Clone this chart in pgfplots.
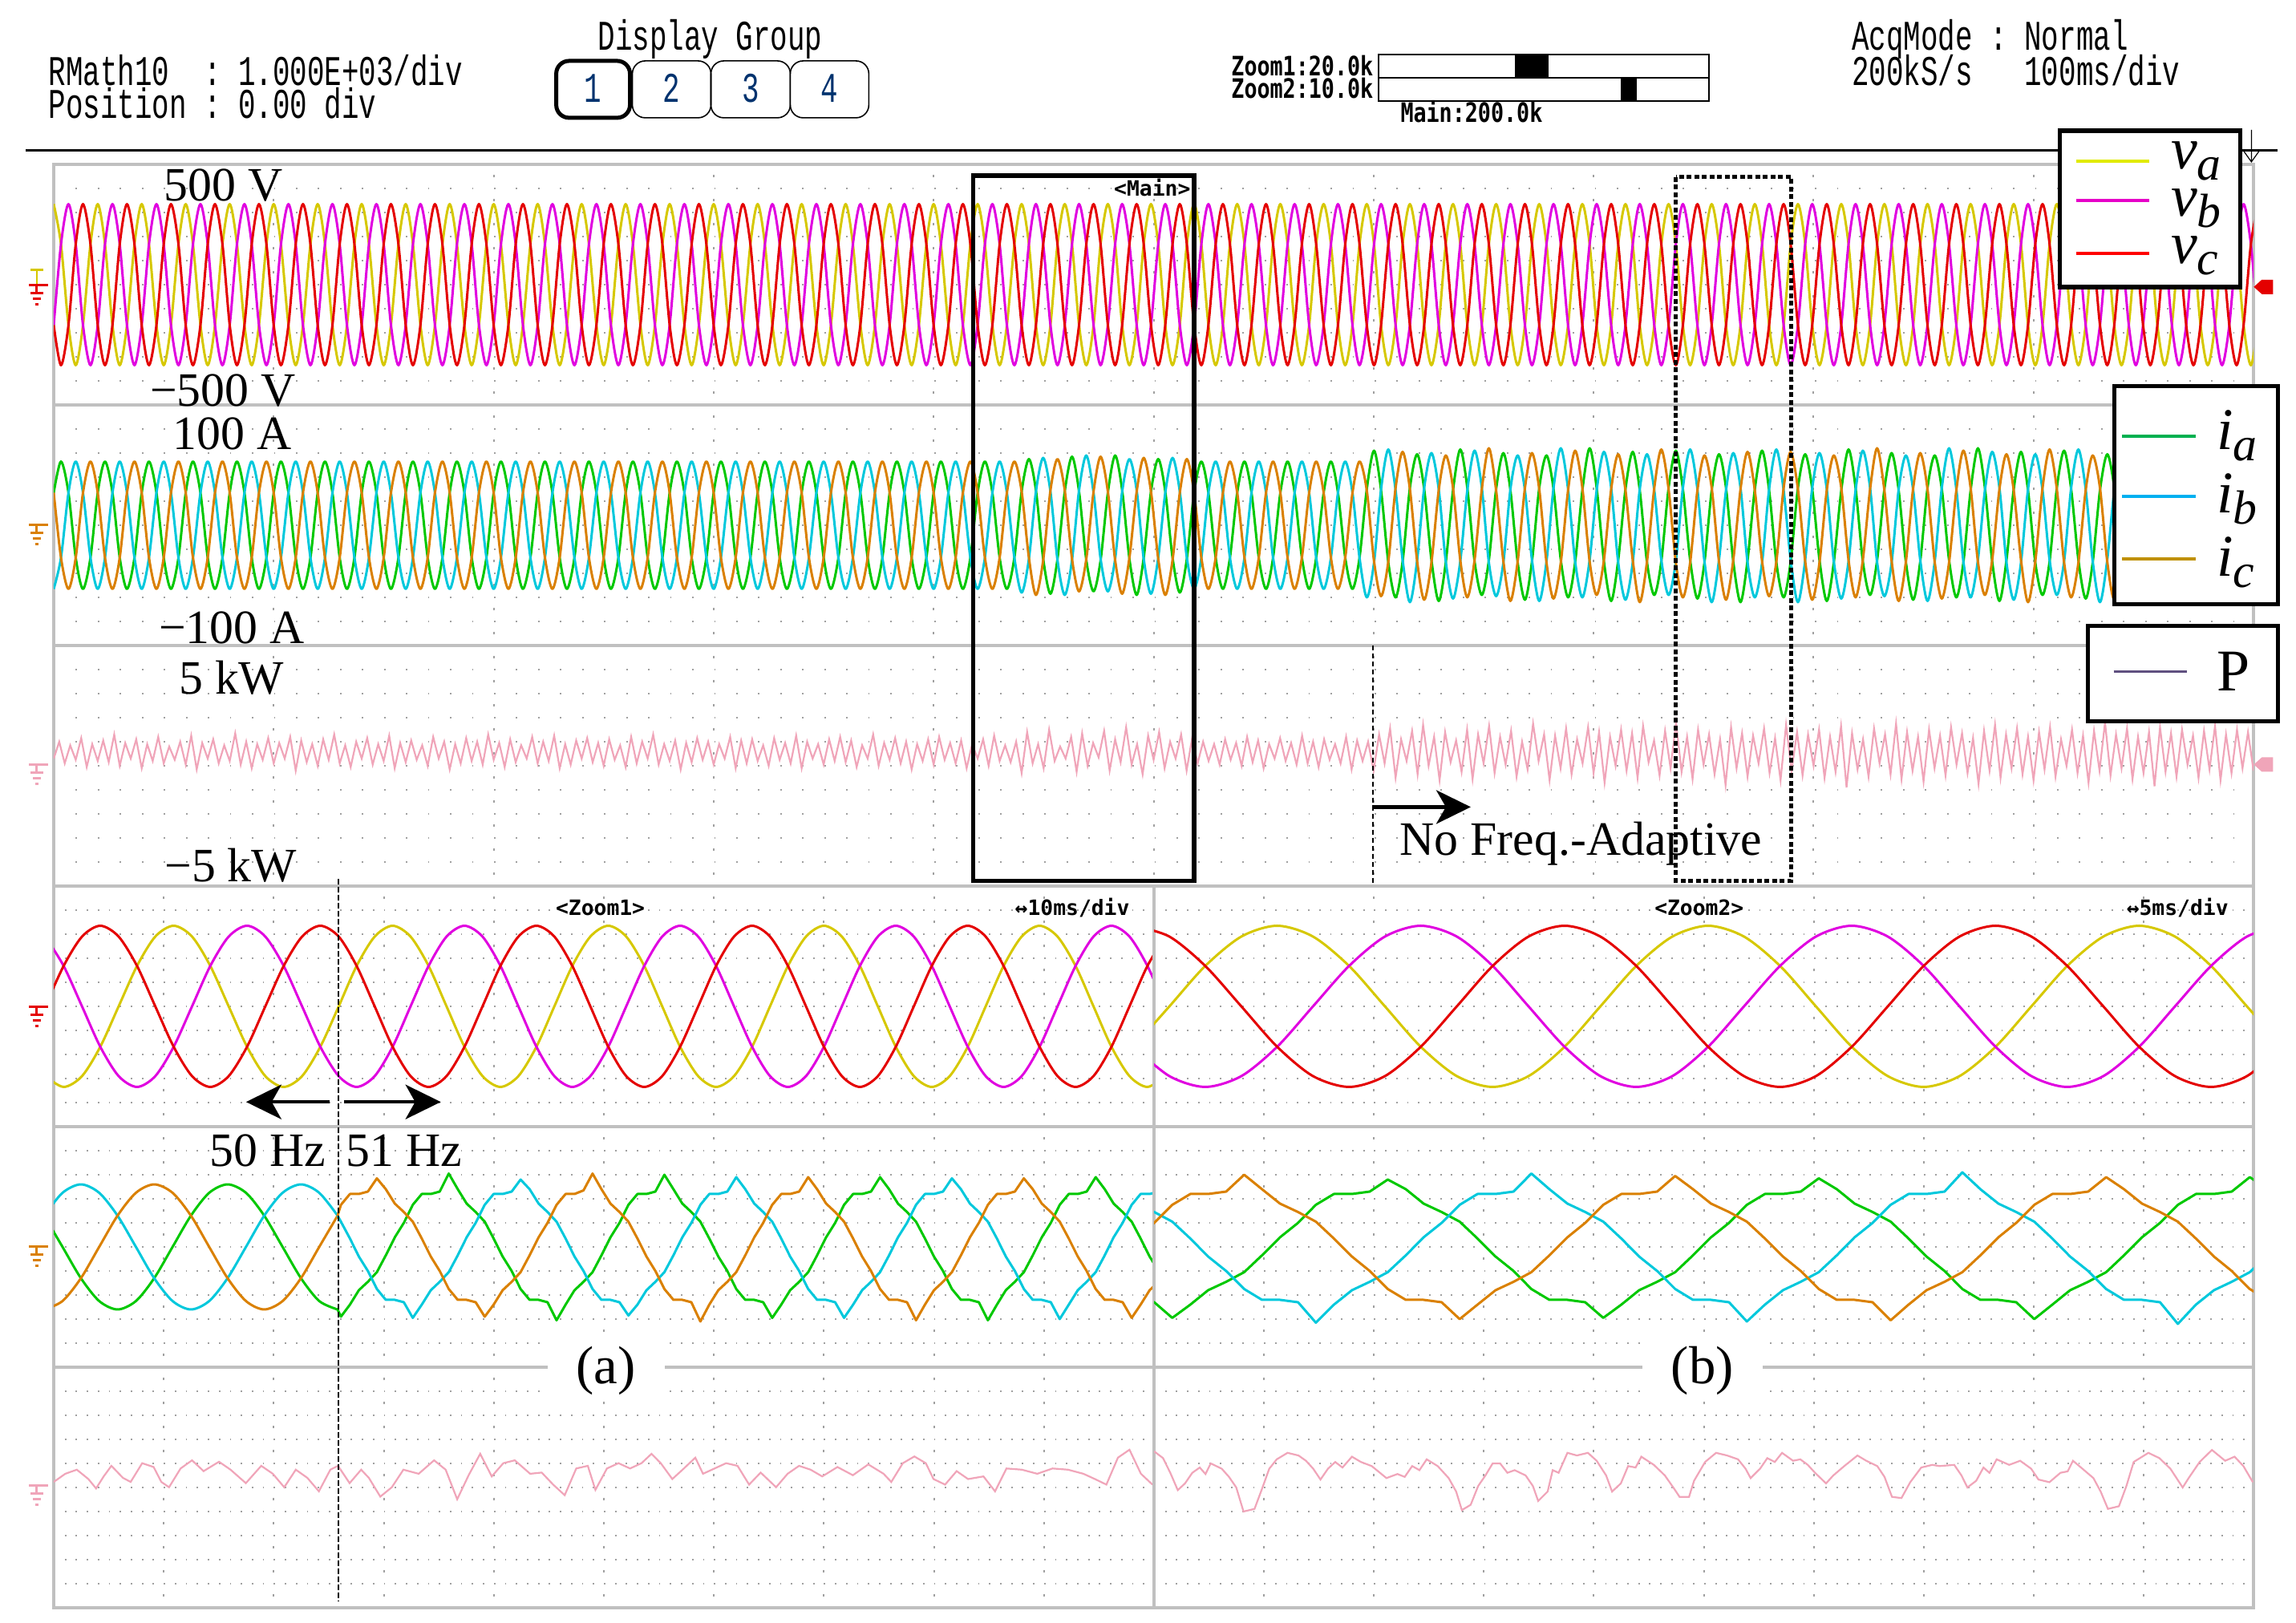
\documentclass[border=0pt]{standalone}
\usepackage{pgfplots}
\pgfplotsset{compat=1.18}
\usepackage{pgfplotstable}
\usepackage{graphicx}
\usepackage{fontspec}
\setmainfont{Liberation Serif}
\newfontfamily\scopefont{Liberation Mono}
\newfontfamily\tagfont{DejaVu Sans Mono}
\usetikzlibrary{arrows.meta}

\definecolor{va}{RGB}{214,200,0}
\definecolor{vb}{RGB}{224,0,224}
\definecolor{vc}{RGB}{228,0,0}
\definecolor{ia}{RGB}{0,200,0}
\definecolor{ib}{RGB}{0,200,220}
\definecolor{ic}{RGB}{218,128,0}
\definecolor{pw}{RGB}{240,165,185}
\definecolor{lva}{RGB}{225,235,0}
\definecolor{lvb}{RGB}{230,0,200}
\definecolor{lvc}{RGB}{255,0,0}
\definecolor{lia}{RGB}{0,176,80}
\definecolor{lib}{RGB}{0,176,240}
\definecolor{lic}{RGB}{191,144,0}
\definecolor{lp}{RGB}{96,80,128}
\definecolor{frame}{RGB}{192,192,192}
\definecolor{dots}{RGB}{160,160,160}
\definecolor{btn}{RGB}{0,50,110}

\newcommand{\hdr}[1]{\scalebox{0.68}[1]{\scopefont\fontsize{15}{15}\selectfont #1}}
\newcommand{\tg}[1]{{\tagfont\bfseries\fontsize{7.5}{7.5}\selectfont #1}}
\newcommand{\zl}[1]{\scalebox{0.8}[1]{\tagfont\bfseries\fontsize{9.5}{9.5}\selectfont #1}}
\newcommand{\lbl}{\fontsize{17}{17}\selectfont}
\newcommand{\lgd}[2]{{\fontsize{21}{21}\selectfont\itshape #1}\raisebox{-0.14cm}{\fontsize{17}{17}\selectfont\itshape #2}}

\pgfplotsset{
  osc/.style={scale only axis, height=3cm, axis lines=box, enlargelimits=false,
    axis line style={frame, line width=0.035cm}, major tick length=0pt,
    xticklabel=\empty, yticklabel=\empty, grid=major, clip=true,
    x grid style={dots, line width=0.02cm, dash pattern=on 0.03cm off 0.27cm, dash phase=0.165cm}},
  mainpanel/.style={osc, width=27.43cm, xmin=0, xmax=1000, xtick={100,200,...,900},
    y grid style={dots, line width=0.018cm, dash pattern=on 0.018cm off 0.2565cm}},
  zoomone/.style={osc, width=13.72cm, xmin=0, xmax=100, xtick={10,20,...,90},
    y grid style={dots, line width=0.018cm, dash pattern=on 0.018cm off 0.1192cm}},
  zoomtwo/.style={osc, width=13.71cm, xmin=0, xmax=50, xtick={5,10,...,45},
    y grid style={dots, line width=0.018cm, dash pattern=on 0.018cm off 0.1192cm}},
  vrow/.style={ymin=-500, ymax=500, ytick={-400,-300,...,400}},
  irow/.style={ymin=-100, ymax=100, ytick={-80,-60,...,80}},
  prow/.style={ymin=-5, ymax=5, ytick={-4,...,4}},
  trace/.style={line width=0.03cm, line join=round},
}

% main window, 1 s: time (ms), phase voltages (V), phase currents (A)
\pgfplotstableread{
t va vb vc ia ib ic
0 335 -168 -168 27 -53 27
3.3 168 168 -335 53 -27 -27
6.7 -168 335 -168 27 27 -53
10 -335 168 168 -27 53 -27
13.3 -168 -168 335 -53 27 27
16.7 168 -335 168 -27 -27 53
20 335 -168 -168 27 -53 27
23.3 168 168 -335 53 -27 -27
26.7 -168 335 -168 27 27 -53
30 -335 168 168 -27 53 -27
33.3 -168 -168 335 -53 27 27
36.7 168 -335 168 -27 -27 53
40 335 -168 -168 27 -53 27
43.3 168 168 -335 53 -27 -27
46.7 -168 335 -168 27 27 -53
50 -335 168 168 -27 53 -27
53.3 -168 -168 335 -53 27 27
56.7 168 -335 168 -27 -27 53
60 335 -168 -168 27 -53 27
63.3 168 168 -335 53 -27 -27
66.7 -168 335 -168 27 27 -53
70 -335 168 168 -27 53 -27
73.3 -168 -168 335 -53 27 27
76.7 168 -335 168 -27 -27 53
80 335 -168 -168 27 -53 27
83.3 168 168 -335 53 -27 -27
86.7 -168 335 -168 27 27 -53
90 -335 168 168 -27 53 -27
93.3 -168 -168 335 -53 27 27
96.7 168 -335 168 -27 -27 53
100 335 -168 -168 27 -53 27
103.3 168 168 -335 53 -27 -27
106.7 -168 335 -168 27 27 -53
110 -335 168 168 -27 53 -27
113.3 -168 -168 335 -53 27 27
116.7 168 -335 168 -27 -27 53
120 335 -168 -168 27 -53 27
123.3 168 168 -335 53 -27 -27
126.7 -168 335 -168 27 27 -53
130 -335 168 168 -27 53 -27
133.3 -168 -168 335 -53 27 27
136.7 168 -335 168 -27 -27 53
140 335 -168 -168 27 -53 27
143.3 168 168 -335 53 -27 -27
146.7 -168 335 -168 27 27 -53
150 -335 168 168 -27 53 -27
153.3 -168 -168 335 -53 27 27
156.7 168 -335 168 -27 -27 53
160 335 -168 -168 27 -53 27
163.3 168 168 -335 53 -27 -27
166.7 -168 335 -168 27 27 -53
170 -335 168 168 -27 53 -27
173.3 -168 -168 335 -53 27 27
176.7 168 -335 168 -27 -27 53
180 335 -168 -168 27 -53 27
183.3 168 168 -335 53 -27 -27
186.7 -168 335 -168 27 27 -53
190 -335 168 168 -27 53 -27
193.3 -168 -168 335 -53 27 27
196.7 168 -335 168 -27 -27 53
200 335 -168 -168 27 -53 27
203.3 168 168 -335 53 -27 -27
206.7 -168 335 -168 27 27 -53
210 -335 168 168 -27 53 -27
213.3 -168 -168 335 -53 27 27
216.7 168 -335 168 -27 -27 53
220 335 -168 -168 27 -53 27
223.3 168 168 -335 53 -27 -27
226.7 -168 335 -168 27 27 -53
230 -335 168 168 -27 53 -27
233.3 -168 -168 335 -53 27 27
236.7 168 -335 168 -27 -27 53
240 335 -168 -168 27 -53 27
243.3 168 168 -335 53 -27 -27
246.7 -168 335 -168 27 27 -53
250 -335 168 168 -27 53 -27
253.3 -168 -168 335 -53 27 27
256.7 168 -335 168 -27 -27 53
260 335 -168 -168 27 -53 27
263.3 168 168 -335 53 -27 -27
266.7 -168 335 -168 27 27 -53
270 -335 168 168 -27 53 -27
273.3 -168 -168 335 -53 27 27
276.7 168 -335 168 -27 -27 53
280 335 -168 -168 27 -53 27
283.3 168 168 -335 53 -27 -27
286.7 -168 335 -168 27 27 -53
290 -335 168 168 -27 53 -27
293.3 -168 -168 335 -53 27 27
296.7 168 -335 168 -27 -27 53
300 335 -168 -168 27 -53 27
303.3 168 168 -335 53 -27 -27
306.7 -168 335 -168 27 27 -53
310 -335 168 168 -27 53 -27
313.3 -168 -168 335 -53 27 27
316.7 168 -335 168 -27 -27 53
320 335 -168 -168 27 -53 27
323.3 168 168 -335 53 -27 -27
326.7 -168 335 -168 27 27 -53
330 -335 168 168 -27 53 -27
333.3 -168 -168 335 -53 27 27
336.7 168 -335 168 -27 -27 53
340 335 -168 -168 27 -53 27
343.3 168 168 -335 53 -27 -27
346.7 -168 335 -168 27 27 -53
350 -335 168 168 -27 53 -27
353.3 -168 -168 335 -53 27 27
356.7 168 -335 168 -27 -27 53
360 335 -168 -168 27 -53 27
363.3 168 168 -335 53 -27 -27
366.7 -168 335 -168 27 27 -53
370 -335 168 168 -27 53 -27
373.3 -168 -168 335 -53 27 27
376.7 168 -335 168 -27 -27 53
380 335 -168 -168 27 -53 27
383.3 168 168 -335 53 -27 -27
386.7 -168 335 -168 27 27 -53
390 -335 168 168 -27 53 -27
393.3 -168 -168 335 -53 27 27
396.7 168 -335 168 -27 -27 53
400 335 -168 -168 27 -53 27
403.3 168 168 -335 53 -27 -27
406.7 -168 335 -168 27 27 -53
410 -335 168 168 -27 53 -27
413.3 -168 -168 335 -53 27 27
416.7 168 -335 168 -27 -27 53
420 335 -168 -168 27 -53 27
423.3 168 168 -335 53 -27 -27
426.7 -168 335 -168 27 27 -53
430 -335 168 168 -27 53 -27
433.3 -168 -168 335 -53 27 27
436.7 168 -335 168 -27 -27 53
440.0 335 -168 -168 28 -56 28
443.3 168 168 -335 55 -28 -27
446.5 -168 335 -168 29 28 -58
449.8 -335 168 168 -28 56 -29
453.1 -168 -168 335 -57 28 29
456.3 168 -335 168 -28 -29 55
459.6 335 -168 -168 28 -58 29
462.9 168 168 -335 57 -29 -28
466.1 -168 335 -168 28 29 -55
469.4 -335 168 168 -29 58 -28
472.7 -168 -168 335 -55 27 28
475.9 168 -335 168 -29 -28 57
479.2 335 -168 -168 27 -55 28
482.5 168 168 -335 58 -28 -29
485.7 -168 335 -168 29 28 -57
489.0 -335 168 168 -28 55 -27
492.3 -168 -168 335 -58 29 28
495.5 168 -335 168 -27 -28 56
498.8 335 -168 -168 28 -57 28
502.1 168 168 -335 55 -27 -28
505.3 -168 335 -168 28 27 -58
508.6 -335 168 168 -27 56 -29
511.9 -168 -168 335 -56 28 27
515.1 168 -335 168 -28 -27 55
518.4 335 -168 -168 27 -53 27
521.7 168 168 -335 53 -27 -27
524.9 -168 335 -168 27 27 -53
528.2 -335 168 168 -27 53 -27
531.5 -168 -168 335 -53 27 27
534.7 168 -335 168 -27 -27 53
538.0 335 -168 -168 27 -53 27
541.3 168 168 -335 53 -27 -27
544.5 -168 335 -168 27 27 -53
547.8 -335 168 168 -27 53 -27
551.1 -168 -168 335 -53 27 27
554.3 168 -335 168 -27 -27 53
557.6 335 -168 -168 27 -53 27
560.9 168 168 -335 53 -27 -27
564.1 -168 335 -168 27 27 -53
567.4 -335 168 168 -27 53 -27
570.7 -168 -168 335 -53 27 27
573.9 168 -335 168 -27 -27 53
577.3 335 -168 -168 27 -53 27
580.6 168 168 -335 53 -27 -27
583.8 -168 335 -168 27 27 -53
587.1 -335 168 168 -27 53 -27
590.4 -168 -168 335 -53 27 27
593.6 168 -335 168 -27 -27 53
596.9 335 -168 -168 30 -60 29
600.2 168 168 -335 62 -31 -30
603.4 -168 335 -168 29 30 -59
606.7 -335 168 168 -31 63 -30
610.0 -168 -168 335 -60 29 31
613.2 168 -335 168 -30 -29 61
616.5 335 -168 -168 31 -64 30
619.8 168 168 -335 59 -29 -30
623.0 -168 335 -168 30 31 -62
626.3 -335 168 168 -29 60 -31
629.6 -168 -168 335 -63 30 29
632.8 168 -335 168 -31 -30 58
636.1 335 -168 -168 29 -61 31
639.4 168 168 -335 63 -30 -29
642.6 -168 335 -168 31 29 -60
645.9 -335 168 168 -30 62 -29
649.2 -168 -168 335 -58 31 30
652.4 168 -335 168 -29 -31 64
655.7 335 -168 -168 30 -59 29
659.0 168 168 -335 60 -31 -30
662.2 -168 335 -168 29 30 -63
665.5 -335 168 168 -31 58 -30
668.8 -168 -168 335 -62 29 31
672.0 168 -335 168 -30 -29 60
675.3 335 -168 -168 31 -63 30
678.6 168 168 -335 58 -30 -31
681.8 -168 335 -168 30 31 -61
685.1 -335 168 168 -29 64 -31
688.4 -168 -168 335 -60 30 29
691.6 168 -335 168 -31 -30 62
694.9 335 -168 -168 29 -60 31
698.2 168 168 -335 64 -29 -30
701.4 -168 335 -168 31 29 -58
704.7 -335 168 168 -30 61 -29
708.0 -168 -168 335 -63 31 30
711.2 168 -335 168 -29 -31 59
714.5 335 -168 -168 30 -62 29
717.8 168 168 -335 61 -31 -29
721.0 -168 335 -168 29 30 -64
724.3 -335 168 168 -31 59 -30
727.6 -168 -168 335 -58 29 31
730.8 168 -335 168 -30 -29 63
734.1 335 -168 -168 31 -58 30
737.4 168 168 -335 62 -30 -31
740.6 -168 335 -168 30 31 -60
743.9 -335 168 168 -29 63 -31
747.2 -168 -168 335 -61 30 29
750.4 168 -335 168 -31 -30 58
753.7 335 -168 -168 29 -64 31
757.0 168 168 -335 59 -29 -30
760.2 -168 335 -168 31 29 -62
763.5 -335 168 168 -30 60 -29
766.8 -168 -168 335 -64 31 30
770.0 168 -335 168 -29 -31 61
773.3 335 -168 -168 30 -60 29
776.6 168 168 -335 62 -31 -30
779.8 -168 335 -168 29 30 -59
783.1 -335 168 168 -31 63 -30
786.4 -168 -168 335 -60 29 31
789.6 168 -335 168 -30 -29 61
792.9 335 -168 -168 31 -64 30
796.2 168 168 -335 59 -29 -30
799.4 -168 335 -168 30 31 -62
802.7 -335 168 168 -29 60 -31
806.0 -168 -168 335 -63 30 29
809.2 168 -335 168 -31 -30 58
812.6 335 -168 -168 29 -61 31
815.9 168 168 -335 63 -30 -29
819.1 -168 335 -168 31 29 -60
822.4 -335 168 168 -30 62 -29
825.7 -168 -168 335 -58 31 30
828.9 168 -335 168 -29 -31 64
832.2 335 -168 -168 30 -59 29
835.5 168 168 -335 60 -31 -30
838.7 -168 335 -168 29 30 -63
842.0 -335 168 168 -31 58 -30
845.3 -168 -168 335 -62 29 31
848.5 168 -335 168 -30 -29 60
851.8 335 -168 -168 31 -63 30
855.1 168 168 -335 58 -30 -31
858.3 -168 335 -168 30 31 -61
861.6 -335 168 168 -29 64 -31
864.9 -168 -168 335 -60 30 29
868.1 168 -335 168 -31 -30 62
871.4 335 -168 -168 29 -60 31
874.7 168 168 -335 64 -29 -30
877.9 -168 335 -168 31 29 -58
881.2 -335 168 168 -30 61 -29
884.5 -168 -168 335 -63 31 30
887.7 168 -335 168 -29 -31 59
891.0 335 -168 -168 30 -62 29
894.3 168 168 -335 61 -31 -29
897.5 -168 335 -168 29 30 -64
900.8 -335 168 168 -31 59 -30
904.1 -168 -168 335 -58 29 31
907.3 168 -335 168 -30 -29 63
910.6 335 -168 -168 31 -58 30
913.9 168 168 -335 62 -30 -31
917.1 -168 335 -168 30 31 -60
920.4 -335 168 168 -29 63 -31
923.7 -168 -168 335 -61 30 29
926.9 168 -335 168 -31 -30 58
930.2 335 -168 -168 29 -64 31
933.5 168 168 -335 59 -29 -30
936.7 -168 335 -168 31 29 -62
940.0 -335 168 168 -30 60 -29
943.3 -168 -168 335 -64 31 30
946.5 168 -335 168 -29 -31 61
949.8 335 -168 -168 30 -60 29
953.1 168 168 -335 62 -31 -30
956.3 -168 335 -168 29 30 -59
959.6 -335 168 168 -31 63 -30
962.9 -168 -168 335 -60 29 31
966.1 168 -335 168 -30 -29 61
969.4 335 -168 -168 31 -64 30
972.7 168 168 -335 59 -29 -30
975.9 -168 335 -168 30 31 -62
979.2 -335 168 168 -29 60 -31
982.5 -168 -168 335 -63 30 29
985.7 168 -335 168 -31 -30 58
989.0 335 -168 -168 29 -61 31
992.3 168 168 -335 63 -30 -29
995.5 -168 335 -168 31 29 -60
998.8 -335 168 168 -30 62 -29
1002.1 -168 -168 335 -58 31 30
}\mainvi

% main window: active power (kW)
\pgfplotstableread{
t p
0 .3
2.5 1.0
5 .1
7.5 .85
10 .25
12.5 1.15
15 -.05
17.5 .9
20 .2
22.5 1.05
25 .15
27.5 1.3
30 0
32.5 .95
35 .3
37.5 1.1
40 -.1
42.5 .9
45 .2
47.5 1.2
50 .1
52.5 .8
55 .25
57.5 1.0
60 .05
62.5 1.25
65 -.15
67.5 .95
70 .3
72.5 1.1
75 .1
77.5 .85
80 .2
82.5 1.35
85 .05
87.5 1.0
90 -.1
92.5 .9
95 .25
97.5 1.15
100 .1
102.5 .95
105 .3
107.5 1.2
110 -.2
112.5 1.05
115 .15
117.5 .9
120 0
122.5 1.1
125 .25
127.5 1.3
130 .1
132.5 .85
135 -.05
137.5 1.0
140 .3
142.5 1.15
145 .05
147.5 .9
150 .2
152.5 1.25
155 -.1
157.5 .95
160 .15
162.5 1.05
165 .25
167.5 .85
170 0
172.5 1.2
175 .3
177.5 1.0
180 -.15
182.5 .9
185 .1
187.5 1.15
190 .2
192.5 1.0
195 .05
197.5 1.3
200 .25
202.5 .95
205 -.05
207.5 1.1
210 .15
212.5 .85
215 .3
217.5 1.2
220 .1
222.5 1.0
225 .2
227.5 1.25
230 -.1
232.5 .9
235 .05
237.5 1.05
240 .3
242.5 1.15
245 .15
247.5 .95
250 0
252.5 1.1
255 .25
257.5 .85
260 -.05
262.5 1.2
265 .1
267.5 1.0
270 .3
272.5 1.3
275 .05
277.5 .9
280 .2
282.5 1.05
285 -.15
287.5 .95
290 .15
292.5 1.15
295 .25
297.5 1.0
300 .05
302.5 .9
305 .3
307.5 1.2
310 -.1
312.5 1.05
315 .1
317.5 1.1
320 .2
322.5 .85
325 0
327.5 1.15
330 .25
332.5 .95
335 .1
337.5 1.25
340 -.1
342.5 1.0
345 .3
347.5 .9
350 .05
352.5 1.1
355 .2
357.5 1.2
360 .15
362.5 1.05
365 -.05
367.5 .85
370 .3
372.5 1.3
375 0
377.5 .95
380 .25
382.5 1.15
385 .1
387.5 1.0
390 -.15
392.5 .9
395 .2
397.5 1.1
400 .05
402.5 1.2
405 .25
407.5 .95
410 .1
412.5 1.05
415 -.1
417.5 .9
420 .3
422.5 1.1
425 0
427.5 1.25
430 .2
432.5 .85
435 .15
437.5 1.0
440 -.3
442.5 1.4
445 .1
447.5 .9
450 -.1
452.5 1.5
455 .2
457.5 .8
460 .3
462.5 1.2
465 -.25
467.5 1.35
470 0
472.5 .95
475 .35
477.5 1.45
480 -.2
482.5 1.1
485 .15
487.5 1.6
490 .05
492.5 .9
495 -.35
497.5 1.25
500 .25
502.5 1.4
505 -.1
507.5 1.0
510 .3
512.5 1.3
515 -.2
517.5 1.15
520 .1
522.5 1.0
525 .2
527.5 .9
530 .05
532.5 1.1
535 .25
537.5 .95
540 0
542.5 1.2
545 .15
547.5 1.05
550 -.1
552.5 .9
555 .3
557.5 1.15
560 .2
562.5 .95
565 .05
567.5 1.25
570 .1
572.5 1.0
575 -.05
577.5 1.1
580 .25
582.5 .9
585 .1
587.5 1.2
590 -.15
592.5 1.05
595 .2
597.5 1.0
600 -.2
602.5 1.3
605 .1
607.5 1.55
610 -.5
612.5 1.1
615 .2
617.5 1.45
620 -.35
622.5 1.7
625 0
627.5 1.2
630 -.6
632.5 1.4
635 .15
637.5 1.05
640 -.25
642.5 1.5
645 -.55
647.5 1.3
650 .1
652.5 1.65
655 -.3
657.5 1.2
660 .05
662.5 1.45
665 -.45
667.5 1.0
670 -.15
672.5 1.75
675 .2
677.5 1.3
680 -.6
682.5 1.25
685 -.1
687.5 1.55
690 -.35
692.5 1.1
695 .1
697.5 1.6
700 -.3
702.5 1.4
705 -.7
707.5 1.2
710 0
712.5 1.5
715 -.2
717.5 1.35
720 -.5
722.5 1.65
725 .15
727.5 1.05
730 -.4
732.5 1.45
735 -.1
737.5 1.8
740 -.25
742.5 1.2
745 -.55
747.5 1.5
750 .05
752.5 1.3
755 -.35
757.5 1.1
760 -.8
762.5 1.6
765 -.1
767.5 1.35
770 -.45
772.5 1.25
775 .1
777.5 1.55
780 -.3
782.5 1.15
785 -.6
787.5 1.7
790 -.2
792.5 1.4
795 -.4
797.5 1.3
800 0
802.5 1.5
805 -.5
807.5 1.2
810 -.25
812.5 1.65
815 -.9
817.5 1.35
820 -.15
822.5 1.1
825 -.45
827.5 1.55
830 .1
832.5 1.3
835 -.35
837.5 1.75
840 -.55
842.5 1.4
845 -.2
847.5 1.2
850 -.65
852.5 1.5
855 -.1
857.5 1.25
860 -.4
862.5 1.6
865 .05
867.5 1.35
870 -.3
872.5 1.15
875 -.75
877.5 1.45
880 -.2
882.5 1.7
885 -.5
887.5 1.3
890 -.1
892.5 1.55
895 -.35
897.5 1.2
900 -.6
902.5 1.4
905 -.15
907.5 1.6
910 -.45
912.5 1.1
915 0
917.5 1.5
920 -.3
922.5 1.25
925 -.7
927.5 1.45
930 -.2
932.5 1.8
935 -.4
937.5 1.3
940 -.1
942.5 1.55
945 -.55
947.5 1.2
950 -.3
952.5 1.4
955 -.85
957.5 1.6
960 -.25
962.5 1.35
965 -.45
967.5 1.5
970 .05
972.5 1.25
975 -.5
977.5 1.45
980 -.15
982.5 1.65
985 -.6
987.5 1.3
990 -.3
992.5 1.5
995 -.1
997.5 1.4
1000 -.2
}\mainp

% zoom 1 (100 ms, 10 ms/div): voltages (V)
\pgfplotstableread{
t va vb vc
-0.77 -290 290 0
0.90 -335 168 168
2.57 -290 0 290
4.23 -168 -168 335
5.90 0 -290 290
7.57 168 -335 168
9.23 290 -290 0
10.90 335 -168 -168
12.57 290 0 -290
14.23 168 168 -335
15.90 0 290 -290
17.57 -168 335 -168
19.23 -290 290 0
20.90 -335 168 168
22.57 -290 0 290
24.23 -168 -168 335
25.90 0 -290 290
27.53 168 -335 168
29.17 290 -290 0
30.80 335 -168 -168
32.43 290 0 -290
34.07 168 168 -335
35.70 0 290 -290
37.33 -168 335 -168
38.97 -290 290 0
40.60 -335 168 168
42.23 -290 0 290
43.87 -168 -168 335
45.50 0 -290 290
47.13 168 -335 168
48.77 290 -290 0
50.40 335 -168 -168
52.03 290 0 -290
53.67 168 168 -335
55.30 0 290 -290
56.93 -168 335 -168
58.57 -290 290 0
60.20 -335 168 168
61.83 -290 0 290
63.47 -168 -168 335
65.10 0 -290 290
66.73 168 -335 168
68.37 290 -290 0
70.00 335 -168 -168
71.63 290 0 -290
73.27 168 168 -335
74.90 0 290 -290
76.53 -168 335 -168
78.17 -290 290 0
79.80 -335 168 168
81.43 -290 0 290
83.07 -168 -168 335
84.70 0 -290 290
86.33 168 -335 168
87.97 290 -290 0
89.60 335 -168 -168
91.23 290 0 -290
92.87 168 168 -335
94.50 0 290 -290
96.13 -168 335 -168
97.77 -290 290 0
99.40 -335 168 168
101.03 -290 0 290
}\zav

% zoom 1: currents (A) at 50 Hz, before the step
\pgfplotstableread{
t ia ib ic
-0.87 26 26 -52
0.80 0 45 -45
2.47 -26 52 -26
4.13 -45 45 0
5.80 -52 26 26
7.47 -45 0 45
9.13 -26 -26 52
10.80 0 -45 45
12.47 26 -52 26
14.13 45 -45 0
15.80 52 -26 -26
17.47 45 0 -45
19.13 26 26 -52
20.80 0 45 -45
22.47 -26 52 -26
24.13 -45 45 0
25.80 -52 26 26
}\zaia

% zoom 1: currents (A) at 51 Hz, after the step
\pgfplotstableread{
t ia ib ic
25.80 -52 26 26
26.10 -58 21 35
26.92 -48 7 44
27.73 -36 -8 44
28.55 -29 -20 46
29.37 -21 -35 57
30.18 -7 -44 48
31.00 8 -44 36
31.82 20 -46 29
32.63 35 -59 21
33.45 44 -48 7
34.27 44 -36 -8
35.08 46 -29 -20
35.90 61 -21 -35
36.72 48 -7 -44
37.53 36 8 -44
38.35 29 20 -46
39.17 21 35 -58
39.98 7 44 -48
40.80 -8 44 -36
41.62 -20 46 -29
42.43 -35 56 -21
43.25 -44 48 -7
44.07 -44 36 8
44.88 -46 29 20
45.70 -61 21 35
46.52 -48 7 44
47.33 -36 -8 44
48.15 -29 -20 47
48.97 -21 -35 61
49.78 -7 -44 48
50.60 8 -44 36
51.42 20 -46 29
52.23 35 -57 21
53.05 44 -48 7
53.87 44 -36 -8
54.68 46 -29 -20
55.50 60 -21 -35
56.32 48 -7 -44
57.13 36 8 -44
57.95 29 20 -46
58.77 21 35 -62
59.58 7 44 -48
60.40 -8 44 -36
61.22 -20 46 -29
62.03 -35 58 -21
62.85 -44 48 -7
63.67 -44 36 8
64.48 -46 29 20
65.30 -59 21 35
66.12 -48 7 44
66.93 -36 -8 44
67.75 -29 -20 46
68.57 -21 -35 58
69.38 -7 -44 48
70.20 8 -44 36
71.02 20 -46 29
71.83 35 -59 21
72.65 44 -48 7
73.47 44 -36 -8
74.28 46 -29 -20
75.10 58 -21 -35
75.92 48 -7 -44
76.73 36 8 -44
77.55 29 20 -46
78.37 21 35 -61
79.18 7 44 -48
80.00 -8 44 -36
80.82 -20 46 -29
81.63 -35 57 -21
82.45 -44 48 -7
83.27 -44 36 8
84.08 -46 29 20
84.90 -61 21 35
85.72 -48 7 44
86.53 -36 -8 44
87.35 -29 -20 46
88.17 -21 -35 57
88.98 -7 -44 48
89.80 8 -44 36
90.62 20 -46 29
91.43 35 -60 21
92.25 44 -48 7
93.07 44 -36 -8
93.88 46 -29 -20
94.70 58 -21 -35
95.52 48 -7 -44
96.33 36 8 -44
97.15 29 20 -46
97.97 21 35 -59
98.78 7 44 -48
99.60 -8 44 -36
100.42 -20 46 -29
}\zaib

% zoom 1: active power (kW)
\pgfplotstableread{
t p
0.0 .23
1.05 .57
2.10 .74
3.15 .35
3.85 -.04
4.54 .46
5.24 .9
6.29 .4
6.99 .23
8.04 1.01
9.08 .85
9.78 .23
10.48 .01
11.53 .79
12.57 1.13
13.62 .68
15.02 1.07
16.07 .74
17.46 .18
18.86 .9
19.91 .57
20.95 .01
22.0 .74
23.05 .4
24.10 -.16
25.14 .74
25.84 .9
26.89 .18
27.94 .74
28.64 .4
29.68 -.38
30.73 .01
31.78 .74
33.17 .57
34.57 1.13
35.62 .74
36.67 -.49
37.71 .51
38.76 1.4
39.81 .46
40.86 1.01
41.90 1.13
43.30 .57
44.35 .62
45.39 .12
46.44 -.32
47.49 .79
48.54 .9
49.23 -.1
50.28 .79
51.33 1.01
52.38 .79
53.42 1.01
54.33 1.4
55.17 1.01
56.22 .35
57.27 .79
58.31 1.24
59.01 .57
60.06 .79
61.11 1.01
62.15 .9
63.20 .12
64.25 .62
65.65 .01
66.70 .57
67.74 .9
68.79 .74
69.84 .46
71.23 .85
72.63 .51
74.03 .96
75.42 .57
76.12 .23
77.17 1.01
78.22 1.29
79.26 1.01
79.96 .35
81.01 .12
82.06 .68
83.10 .35
84.50 .46
85.55 -.16
86.59 .79
87.99 .74
89.39 .57
90.78 .79
92.18 .74
93.58 .57
94.63 .35
95.67 .12
96.72 1.24
97.77 1.57
98.81 .57
99.86 .12
}\zap

% zoom 2 (50 ms, 5 ms/div): voltages (V)
\pgfplotstableread{
t va vb vc
-0.93 -168 -168 335
0.70 0 -290 290
2.33 168 -335 168
3.97 290 -290 0
5.60 335 -168 -168
7.23 290 0 -290
8.87 168 168 -335
10.50 0 290 -290
12.13 -168 335 -168
13.77 -290 290 0
15.40 -335 168 168
17.03 -290 0 290
18.67 -168 -168 335
20.30 0 -290 290
21.93 168 -335 168
23.57 290 -290 0
25.20 335 -168 -168
26.83 290 0 -290
28.47 168 168 -335
30.10 0 290 -290
31.73 -168 335 -168
33.37 -290 290 0
35.00 -335 168 168
36.63 -290 0 290
38.27 -168 -168 335
39.90 0 -290 290
41.53 168 -335 168
43.17 290 -290 0
44.80 335 -168 -168
46.43 290 0 -290
48.07 168 168 -335
49.70 0 290 -290
51.33 -168 335 -168
}\zbv

% zoom 2: currents (A)
\pgfplotstableread{
t ia ib ic
-0.80 -44 36 8
0.01 -46 29 20
0.83 -59 21 35
1.65 -48 7 44
2.46 -36 -8 44
3.28 -29 -20 46
4.10 -21 -35 60
4.91 -7 -44 48
5.73 8 -44 36
6.55 20 -46 29
7.36 35 -63 21
8.18 44 -48 7
9.00 44 -36 -8
9.81 46 -29 -20
10.63 56 -21 -35
11.45 48 -7 -44
12.26 36 8 -44
13.08 29 20 -46
13.90 21 35 -60
14.71 7 44 -48
15.53 -8 44 -36
16.35 -20 46 -29
17.16 -35 61 -21
17.98 -44 48 -7
18.80 -44 36 8
19.61 -46 29 20
20.43 -59 21 35
21.25 -48 7 44
22.06 -36 -8 44
22.88 -29 -20 46
23.70 -21 -35 59
24.51 -7 -44 48
25.33 8 -44 36
26.15 20 -46 29
26.96 35 -62 21
27.78 44 -48 7
28.60 44 -36 -8
29.41 46 -29 -20
30.23 57 -21 -35
31.05 48 -7 -44
31.86 36 8 -44
32.68 29 20 -46
33.50 21 35 -61
34.31 7 44 -48
35.13 -8 44 -36
35.95 -20 46 -29
36.76 -35 62 -21
37.58 -44 48 -7
38.40 -44 36 8
39.21 -46 29 20
40.03 -60 21 35
40.85 -48 7 44
41.66 -36 -8 44
42.48 -29 -20 46
43.30 -21 -35 58
44.11 -7 -44 48
44.93 8 -44 36
45.75 20 -46 29
46.56 35 -64 21
47.38 44 -48 7
48.20 44 -36 -8
49.01 46 -29 -20
49.83 58 -21 -35
50.65 48 -7 -44
}\zbi

% zoom 2: active power (kW)
\pgfplotstableread{
t p
0.01 1.5
0.41 1.22
0.74 .61
1.08 -.11
1.41 .17
1.74 .61
2.08 .83
2.34 .56
2.58 1.0
3.08 .78
3.41 .44
3.74 0
4.07 -1.0
4.57 -.89
4.91 -.06
5.24 .78
5.58 1.17
6.07 1.44
6.57 1.33
6.91 1.11
7.24 .78
7.57 .33
7.91 .78
8.24 1.06
8.57 .83
9.00 1.28
9.41 1.06
9.90 .89
10.57 .39
11.07 .56
11.40 .44
11.74 .89
12.07 .72
12.40 1.17
12.90 .89
13.40 .39
13.74 -.17
14.00 -.94
14.40 -.72
14.74 .06
15.07 .5
15.40 1.0
15.74 1.0
16.07 .61
16.40 .72
16.90 .5
17.23 .06
17.47 -.56
17.90 -.17
18.13 .72
18.40 .61
18.80 1.44
19.23 1.33
19.73 1.44
20.13 1.11
20.56 .5
20.83 -.17
21.23 .17
21.56 .89
21.90 .83
22.16 1.28
22.73 .94
23.23 .5
23.66 -.06
23.90 -.39
24.33 -.39
24.56 .28
25.06 1.06
25.56 1.44
26.06 1.33
26.56 1.17
26.90 .78
27.13 .39
27.56 .78
27.89 1.22
28.23 1.06
28.56 1.44
29.06 1.11
29.39 1.17
29.73 .94
30.06 .61
30.56 .17
30.89 .5
31.39 .89
31.99 1.33
32.39 1.11
32.89 .89
33.22 .44
33.56 -.39
33.99 -.44
34.39 .22
34.89 .83
35.39 .94
35.72 .89
36.39 .94
36.72 .5
36.99 0
37.39 .28
37.72 .83
37.99 .61
38.32 1.17
38.89 .94
39.39 1.11
39.89 .78
40.22 .33
40.72 .22
41.22 .61
41.55 .67
41.79 1.11
42.22 .78
42.72 .39
43.05 -.17
43.38 -.89
43.88 -.78
44.22 .06
44.55 1.06
45.22 1.44
45.72 1.22
46.22 .78
46.78 0
47.05 .39
47.55 1.06
48.11 1.56
48.71 1.11
49.14 1.28
49.54 .89
49.97 .22
}\zbp

\begin{document}
\begin{tikzpicture}
\useasboundingbox (0,0) rectangle (28.63cm,20.23cm);

% ---- main window ----
\begin{axis}[mainpanel, vrow, at={(0.67cm,15.18cm)}, anchor=south west]
\addplot[va, trace, smooth] table[x=t, y=va]{\mainvi};
\addplot[vb, trace, smooth] table[x=t, y=vb]{\mainvi};
\addplot[vc, trace, smooth] table[x=t, y=vc]{\mainvi};
\end{axis}
\begin{axis}[mainpanel, irow, at={(0.67cm,12.18cm)}, anchor=south west]
\addplot[ia, trace, smooth] table[x=t, y=ia]{\mainvi};
\addplot[ib, trace, smooth] table[x=t, y=ib]{\mainvi};
\addplot[ic, trace, smooth] table[x=t, y=ic]{\mainvi};
\end{axis}
\begin{axis}[mainpanel, prow, at={(0.67cm,9.18cm)}, anchor=south west]
\addplot[pw, line width=0.022cm] table[x=t, y=p]{\mainp};
\end{axis}

% ---- zoom 1 ----
\begin{axis}[zoomone, vrow, at={(0.67cm,6.18cm)}, anchor=south west]
\addplot[va, trace, smooth] table[x=t, y=va]{\zav};
\addplot[vb, trace, smooth] table[x=t, y=vb]{\zav};
\addplot[vc, trace, smooth] table[x=t, y=vc]{\zav};
\end{axis}
\begin{axis}[zoomone, irow, at={(0.67cm,3.18cm)}, anchor=south west]
\addplot[ia, trace, smooth] table[x=t, y=ia]{\zaia};
\addplot[ib, trace, smooth] table[x=t, y=ib]{\zaia};
\addplot[ic, trace, smooth] table[x=t, y=ic]{\zaia};
\addplot[ia, trace] table[x=t, y=ia]{\zaib};
\addplot[ib, trace] table[x=t, y=ib]{\zaib};
\addplot[ic, trace] table[x=t, y=ic]{\zaib};
\end{axis}
\begin{axis}[zoomone, prow, at={(0.67cm,0.18cm)}, anchor=south west]
\addplot[pw, line width=0.022cm] table[x=t, y=p]{\zap};
\end{axis}

% ---- zoom 2 ----
\begin{axis}[zoomtwo, vrow, at={(14.39cm,6.18cm)}, anchor=south west]
\addplot[va, trace, smooth] table[x=t, y=va]{\zbv};
\addplot[vb, trace, smooth] table[x=t, y=vb]{\zbv};
\addplot[vc, trace, smooth] table[x=t, y=vc]{\zbv};
\end{axis}
\begin{axis}[zoomtwo, irow, at={(14.39cm,3.18cm)}, anchor=south west]
\addplot[ia, trace] table[x=t, y=ia]{\zbi};
\addplot[ib, trace] table[x=t, y=ib]{\zbi};
\addplot[ic, trace] table[x=t, y=ic]{\zbi};
\end{axis}
\begin{axis}[zoomtwo, prow, at={(14.39cm,0.18cm)}, anchor=south west]
\addplot[pw, line width=0.022cm] table[x=t, y=p]{\zbp};
\end{axis}

% ---- screen furniture and annotations (pixel coordinates, y downwards) ----
\begin{scope}[shift={(0cm,20.23cm)}, x=0.01cm, y=-0.01cm]
% header
\node[anchor=base west, inner sep=0] at (60,107) {\hdr{RMath10~~:~1.000E+03/div}};
\node[anchor=base west, inner sep=0] at (60,148) {\hdr{Position~:~0.00~div}};
\node[anchor=base, inner sep=0] at (886,63) {\hdr{Display~Group}};
\draw[line width=0.05cm, rounded corners=0.16cm] (694,76) rectangle (786,147);
\draw[line width=0.016cm, rounded corners=0.16cm] (789,76) rectangle (887,147);
\draw[line width=0.016cm, rounded corners=0.16cm] (887,76) rectangle (986,147);
\draw[line width=0.016cm, rounded corners=0.16cm] (986,76) rectangle (1084,147);
\node[anchor=base, inner sep=0, text=btn] at (740,128) {\hdr{1}};
\node[anchor=base, inner sep=0, text=btn] at (838,128) {\hdr{2}};
\node[anchor=base, inner sep=0, text=btn] at (937,128) {\hdr{3}};
\node[anchor=base, inner sep=0, text=btn] at (1035,128) {\hdr{4}};
\node[anchor=base east, inner sep=0] at (1714,95) {\zl{Zoom1:20.0k}};
\node[anchor=base east, inner sep=0] at (1714,123) {\zl{Zoom2:10.0k}};
\draw[line width=0.022cm] (1720,68) rectangle (2132,126) (1720,97)--(2132,97);
\fill (1890,68) rectangle (1932,97);
\fill (2022,97) rectangle (2042,126);
\node[anchor=base, inner sep=0] at (1836,153) {\zl{Main:200.0k}};
\node[anchor=base west, inner sep=0] at (2310,63) {\hdr{AcqMode~:~Normal}};
\node[anchor=base west, inner sep=0] at (2310,107) {\hdr{200kS/s~~~100ms/div}};
\draw[line width=0.03cm] (32,188)--(2842,188);
\draw[line width=0.012cm] (2809,162)--(2809,202) (2799,188)--(2809,202)--(2819,188);

% channel ground marks
\draw[va, line width=0.028cm] (38,337)--(54,337) (46,337)--(46,354);
\foreach \yy/\cc in {356/vc, 655/ic, 954/pw, 1256/vc, 1555/ic, 1854/pw}{
  \draw[\cc, line width=0.03cm] (36,\yy)--(60,\yy) (46,\yy)--(46,\yy+10)
    (38,\yy+10)--(54,\yy+10) (41,\yy+17)--(51,\yy+17) (44,\yy+24)--(48,\yy+24);
}
\fill[vc] (2812,358)--(2822,349)--(2836,349)--(2836,367)--(2822,367)--cycle;
\fill[pw] (2812,954)--(2822,945)--(2836,945)--(2836,963)--(2822,963)--cycle;

% scale labels
\node[anchor=base, inner sep=0, font=\lbl] at (279,251) {500 V};
\node[anchor=base, inner sep=0, font=\lbl] at (278,507) {−500 V};
\node[anchor=base, inner sep=0, font=\lbl] at (290,561) {100 A};
\node[anchor=base, inner sep=0, font=\lbl] at (289,803) {−100 A};
\node[anchor=base, inner sep=0, font=\lbl] at (289,866) {5 kW};
\node[anchor=base, inner sep=0, font=\lbl] at (288,1100) {−5 kW};
\node[anchor=base, inner sep=0, font=\lbl] at (334,1455) {50 Hz};
\node[anchor=base, inner sep=0, font=\lbl] at (504,1455) {51 Hz};
\node[anchor=base west, inner sep=0, font=\lbl] at (1746,1067) {No Freq.-Adaptive};
\node[anchor=base, fill=white, inner xsep=0.36cm, inner ysep=0.06cm, font=\fontsize{19}{19}\selectfont] at (756,1727) {(a)};
\node[anchor=base, fill=white, inner xsep=0.36cm, inner ysep=0.06cm, font=\fontsize{19}{19}\selectfont] at (2124,1727) {(b)};

% zoom window tags
\node[anchor=east, inner sep=0] at (1486,234) {\tg{<Main>}};
\node[inner sep=0] at (749,1133) {\tg{<Zoom1>}};
\node[anchor=east, inner sep=0] at (1410,1133) {\tg{↔10ms/div}};
\node[inner sep=0] at (2120,1133) {\tg{<Zoom2>}};
\node[anchor=east, inner sep=0] at (2781,1133) {\tg{↔5ms/div}};

% markers
\draw[line width=0.02cm, dash pattern=on 0.065cm off 0.035cm] (422,1097)--(422,1998);
\draw[line width=0.02cm, dash pattern=on 0.065cm off 0.035cm] (1713,805)--(1713,1103);
\draw[line width=0.055cm] (1214,219) rectangle (1490,1099);
\draw[line width=0.05cm, dash pattern=on 0.06cm off 0.035cm] (2091,221) rectangle (2235,1099);
\draw[line width=0.042cm, -{Stealth[length=0.44cm, width=0.43cm, inset=0.12cm]}] (411,1375)--(307,1375);
\draw[line width=0.042cm, -{Stealth[length=0.44cm, width=0.43cm, inset=0.12cm]}] (429,1375)--(550,1375);
\draw[line width=0.042cm, -{Stealth[length=0.43cm, width=0.42cm, inset=0.12cm]}] (1712,1007)--(1835,1007);

% legends
\draw[line width=0.055cm, fill=white] (2570,163) rectangle (2795,358);
\draw[lva, line width=0.04cm] (2590,201)--(2682,201);
\draw[lvb, line width=0.04cm] (2590,250)--(2682,250);
\draw[lvc, line width=0.04cm] (2590,316)--(2682,316);
\node[anchor=base west, inner sep=0] at (2708,211) {\lgd{v}{a}};
\node[anchor=base west, inner sep=0] at (2708,270) {\lgd{v}{b}};
\node[anchor=base west, inner sep=0] at (2708,329) {\lgd{v}{c}};
\draw[line width=0.055cm, fill=white] (2638,482) rectangle (2842,754);
\draw[lia, line width=0.04cm] (2648,544)--(2740,544);
\draw[lib, line width=0.04cm] (2648,619)--(2740,619);
\draw[lic, line width=0.04cm] (2648,697)--(2740,697);
\node[anchor=base west, inner sep=0] at (2765,561) {\lgd{i}{a}};
\node[anchor=base west, inner sep=0] at (2765,640) {\lgd{i}{b}};
\node[anchor=base west, inner sep=0] at (2765,719) {\lgd{i}{c}};
\draw[line width=0.055cm, fill=white] (2605,781) rectangle (2842,900);
\draw[lp, line width=0.03cm] (2637,838)--(2729,838);
\node[anchor=base west, inner sep=0, font=\fontsize{21}{21}\selectfont] at (2765,862) {P};
\end{scope}
\end{tikzpicture}
\end{document}
